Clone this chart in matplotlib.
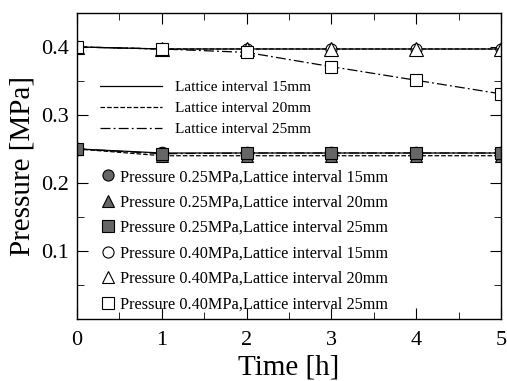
import matplotlib
matplotlib.use("Agg")
import matplotlib.pyplot as plt
from matplotlib.lines import Line2D

plt.rcParams['font.family'] = ['Liberation Serif', 'DejaVu Serif']

# data
hours = [0, 1, 2, 3, 4, 5]
p025_15 = [0.250, 0.244, 0.244, 0.244, 0.244, 0.244]
p025_20 = [0.250, 0.240, 0.240, 0.240, 0.240, 0.240]
p025_25 = [0.250, 0.243, 0.244, 0.244, 0.244, 0.244]
p040_15 = [0.400, 0.397, 0.397, 0.397, 0.397, 0.397]
p040_20 = [0.400, 0.397, 0.397, 0.397, 0.397, 0.397]
p040_25 = [0.400, 0.397, 0.392, 0.371, 0.351, 0.331]

line_labels = ['Lattice interval 15mm', 'Lattice interval 20mm', 'Lattice interval 25mm']
marker_labels = ['Pressure 0.25MPa,Lattice interval 15mm',
                 'Pressure 0.25MPa,Lattice interval 20mm',
                 'Pressure 0.25MPa,Lattice interval 25mm',
                 'Pressure 0.40MPa,Lattice interval 15mm',
                 'Pressure 0.40MPa,Lattice interval 20mm',
                 'Pressure 0.40MPa,Lattice interval 25mm']

fig = plt.figure(figsize=(5.07, 3.81), dpi=100)
ax = fig.add_axes([0.152, 0.163, 0.836, 0.803])

gray = '#666666'
ms = 9
lw = 0.9
dashdot = (0, (8, 2.5, 1.5, 2.5))
ax.plot(hours, p025_15, '-', color='k', lw=lw, marker='o', ms=ms, mfc=gray, mec='k', mew=0.8)
ax.plot(hours, p025_20, '--', color='k', lw=lw, marker='^', ms=ms, mfc=gray, mec='k', mew=0.8)
ax.plot(hours, p025_25, ls=dashdot, color='k', lw=lw, marker='s', ms=ms, mfc=gray, mec='k', mew=0.8)
ax.plot(hours, p040_15, '-', color='k', lw=lw, marker='o', ms=ms - 1, mfc='white', mec='k', mew=0.8)
ax.plot(hours, p040_20, '--', color='k', lw=lw, marker='^', ms=ms + 1, mfc='white', mec='k', mew=0.8)
ax.plot(hours, p040_25, ls=dashdot, color='k', lw=lw, marker='s', ms=ms, mfc='white', mec='k', mew=0.8)

for s in ax.spines.values():
    s.set_linewidth(1.0)

ax.set_xlim(0, 5)
ax.set_ylim(0.0, 0.45)
ax.set_xticks([0, 1, 2, 3, 4, 5])
ax.set_xticks([0.5, 1.5, 2.5, 3.5, 4.5], minor=True)
ax.set_yticks([0.1, 0.2, 0.3, 0.4])
ax.set_yticks([0.05, 0.15, 0.25, 0.35], minor=True)
ax.set_yticklabels(['0.1', '0.2', '0.3', '0.4'])
ax.tick_params(which='both', direction='in', top=True, right=True, labelsize=16)
ax.tick_params(axis='x', pad=9)
ax.tick_params(axis='y', pad=6)
ax.tick_params(which='major', length=8)
ax.tick_params(which='minor', length=5)
ax.set_xlabel('Time [h]', fontsize=21, labelpad=3)
ax.set_ylabel('Pressure [MPa]', fontsize=21, labelpad=4)

styles = ['-', '--', dashdot]
h1 = [Line2D([], [], color='k', lw=lw, ls=st) for st in styles]
leg1 = ax.legend(h1, line_labels, loc='upper left', bbox_to_anchor=(0.037, 0.804),
                 frameon=False, handlelength=4.05, handletextpad=0.85, labelspacing=0.47,
                 fontsize=11, borderpad=0)
ax.add_artist(leg1)

mk = ['o', '^', 's', 'o', '^', 's']
fc = [gray, gray, gray, 'white', 'white', 'white']
h2 = [Line2D([], [], ls='none', marker=m, ms=8, mfc=f, mec='k', mew=0.8) for m, f in zip(mk, fc)]
ax.legend(h2, marker_labels, loc='lower left', bbox_to_anchor=(0.039, -0.005),
          frameon=False, handlelength=0.8, handletextpad=0.35, labelspacing=0.58,
          fontsize=11.7, borderpad=0)

fig.savefig('out.png', dpi=100)
